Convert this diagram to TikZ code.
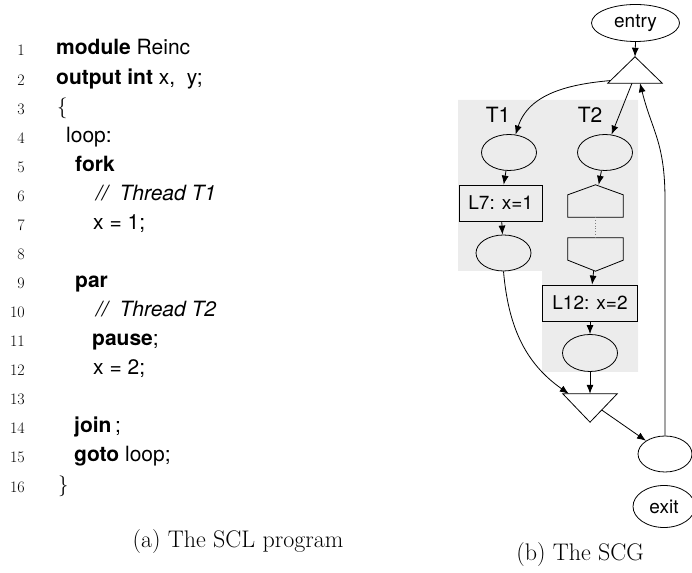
\documentclass[tikz,border=0pt]{standalone}
\usepackage{fontspec}
\setsansfont{TeX Gyre Heros}
\usetikzlibrary{arrows.meta,calc,shapes.geometric}
\begin{document}
\begin{tikzpicture}[x=1pt,y=1pt,
  code/.style={anchor=base west, inner sep=0, font=\sffamily\fontsize{21}{23}\selectfont},
  lno/.style={anchor=base east, inner sep=0, font=\fontsize{16}{18}\selectfont},
  captxt/.style={anchor=base, inner sep=0, font=\fontsize{24}{28}\selectfont},
  el/.style={draw, ellipse, line width=0.8, minimum width=55, minimum height=36, inner sep=0, font=\sffamily\fontsize{19}{21}\selectfont},
  bx/.style={draw, rectangle, line width=0.8, inner sep=0, font=\sffamily\fontsize{19}{21}\selectfont},
  ghost/.style={rectangle, inner sep=0, draw=none},
  lbl/.style={inner sep=0, font=\sffamily\fontsize{21}{23}\selectfont},
  shp/.style={line width=0.8},
  arr/.style={-{Latex[length=9,width=7]}, line width=0.8},
]
\useasboundingbox (0,0) rectangle (692,572);

% ---------- code listing ----------
\foreach \n/\t/\x in {
  1/{\textbf{module} Reinc}/56,
  2/{\textbf{output int} x,~ y;}/56,
  3/{\rmfamily$\{$}/57,
  4/{loop:}/66,
  5/{\textbf{fork}}/75,
  6/{\textit{//~ Thread T1}}/96,
  7/{x = 1;}/93,
  9/{\textbf{par}}/75,
  10/{\textit{//~ Thread T2}}/96,
  11/{\textbf{pause};}/92,
  12/{x = 2;}/93,
  14/{\textbf{join}\,;}/74,
  15/{\textbf{goto} loop;}/74,
  16/{\rmfamily$\}$}/58}
{ \node[code] (c\n) at (\x, {517-29.07*(\n-1)}) {\t}; }
\foreach \n in {1,...,16}
{ \node[lno] (n\n) at (25, {516-29.07*(\n-1)}) {\n}; }

\node[captxt] (capa) at (238,25) {(a) The SCL program};
\node[captxt] (capb) at (580,12) {(b) The SCG};

% ---------- SCG ----------
\fill[gray!15] (458,472) -- (638,472) -- (638,200) -- (542,200) -- (542,301) -- (458,301) -- cycle;

\node[el, minimum width=88, minimum height=37] (entry) at (635.5,549) {entry};
\node[ghost, minimum width=54, minimum height=26] (fork) at (635,502) {};
\draw[shp] (fork.south west) -- (fork.north) -- (fork.south east) -- cycle;

\node[lbl] (t1) at (498,457) {T1};
\node[lbl] (t2) at (590,457) {T2};

\node[el] (a1) at (509,419.5) {};
\node[el] (b1) at (605,419.5) {};
\node[bx, minimum width=83, minimum height=36] (l7) at (500.7,369) {L7: x=1};
\node[el] (a2) at (503.5,319) {};

\node[ghost, minimum width=55, minimum height=32] (sur) at (595.5,371) {};
\draw[shp] (sur.south west) -- ($(sur.north west)+(0,-10)$) -- (sur.north) -- ($(sur.north east)+(0,-10)$) -- (sur.south east) -- cycle;
\node[ghost, minimum width=55, minimum height=33] (dep) at (595.5,317.5) {};
\draw[shp] (dep.north west) -- ($(dep.south west)+(0,11)$) -- (dep.south) -- ($(dep.south east)+(0,11)$) -- (dep.north east) -- cycle;
\draw[dotted, gray, line width=0.8] (sur.south) -- (dep.north);

\node[bx, minimum width=95, minimum height=36] (l12) at (590,269) {L12: x=2};
\node[el, minimum height=37] (b2) at (590,219) {};
\node[ghost, minimum width=54, minimum height=28] (join) at (590,164) {};
\draw[shp] (join.north west) -- (join.south) -- (join.north east) -- cycle;

\node[el, minimum width=54] (last) at (665,118) {};
\node[el, minimum width=62, minimum height=42] (exit) at (664,65.5) {exit};
\coordinate (bend) at (665,372);

% ---------- connectors ----------
\draw[arr] (entry.south) -- (fork.north);
\draw[arr] ($(fork.south west)!0.1!(fork.north)$) to[out=185,in=72] (a1.70);
\draw[arr] ($(fork.south)+(-3,0)$) -- (b1.70);
\draw[arr] (a1) -- (l7);
\draw[arr] (l7) -- (a2);
\draw[arr] (b1) -- (sur);
\draw[arr] (dep) -- (l12);
\draw[arr] (l12) -- (b2);
\draw[arr] (b2) -- (join.north);
\draw[arr] (a2.south) to[out=-85,in=145] ($(join.north west)+(6,0)$);
\draw[arr] ($(join.north east)!0.57!(join.south)$) -- (last);
\draw[arr] (last.north) -- (bend) .. controls +(0,58) and +(12,-48) .. ($(fork.south)+(5,0)$);
\end{tikzpicture}
\end{document}
